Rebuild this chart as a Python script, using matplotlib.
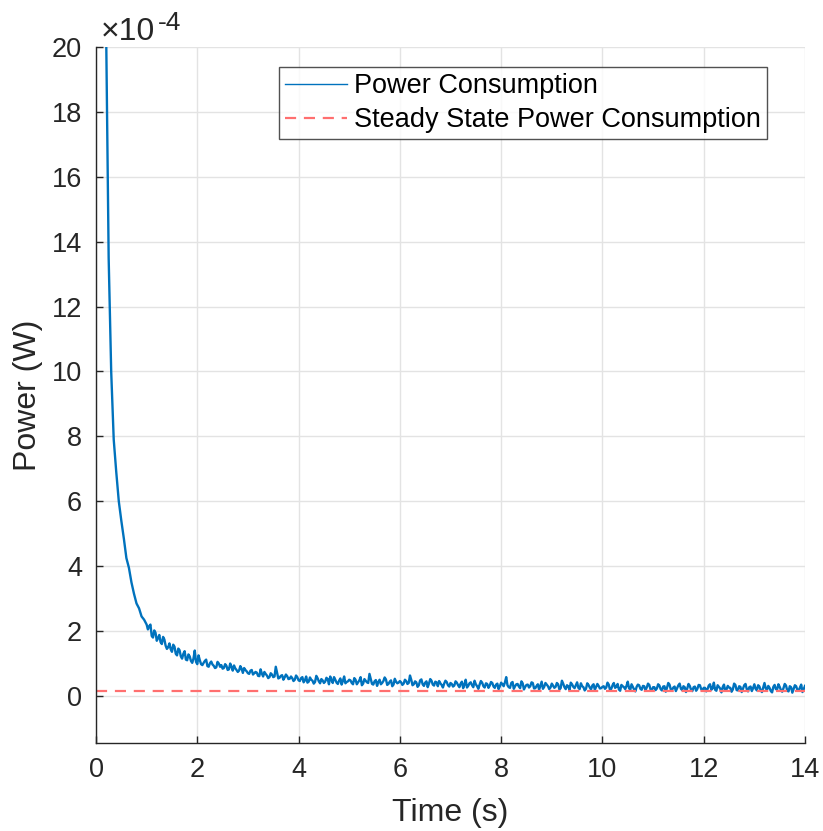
import numpy as np
import matplotlib
matplotlib.use("Agg")
import matplotlib.pyplot as plt

# ---- data (power in units of 1e-4 W) ----
# start of the decay, sampled every 0.05 s from 0.20 s to 1.00 s
early_t0, early_dt = 0.20, 0.05
power_early = [20.5, 13.5, 10.0, 7.9, 6.9, 6.0, 5.4, 4.85, 4.25, 3.95, 3.5,
               3.15, 2.85, 2.7, 2.45, 2.35, 2.2]

# noisy part: samples at 1.05, 1.10, ... 14.00 s
power_1_2 = [2.15, 1.85, 2.02, 1.70, 1.88, 1.60, 1.74, 1.45, 1.62, 1.36,
             1.52, 1.25, 1.41, 1.15, 1.38, 1.10, 1.22, 1.02, 1.40, 0.98]
power_2_3 = [1.10, 0.95, 1.08, 0.92, 1.01, 0.97, 0.86, 1.05, 0.90, 0.84,
             0.98, 0.80, 1.00, 0.78, 0.85, 0.74, 0.92, 0.71, 0.80, 0.70]
power_3_4 = [0.78, 0.66, 0.74, 0.62, 0.82, 0.60, 0.68, 0.55, 0.70, 0.58,
             0.90, 0.54, 0.62, 0.50, 0.66, 0.52, 0.60, 0.46, 0.63, 0.48]
power_4_5 = [0.55, 0.42, 0.60, 0.44, 0.50, 0.38, 0.62, 0.45, 0.52, 0.40,
             0.56, 0.36, 0.49, 0.58, 0.41, 0.47, 0.35, 0.60, 0.43, 0.50]
power_5_6 = [0.40, 0.55, 0.36, 0.48, 0.33, 0.52, 0.42, 0.68, 0.37, 0.45,
             0.31, 0.50, 0.40, 0.57, 0.34, 0.44, 0.30, 0.53, 0.39, 0.46]
power_6_7 = [0.34, 0.50, 0.37, 0.63, 0.33, 0.45, 0.28, 0.48, 0.36, 0.41,
             0.27, 0.52, 0.35, 0.44, 0.30, 0.39, 0.26, 0.47, 0.33, 0.40]
power_7_8 = [0.29, 0.45, 0.33, 0.38, 0.24, 0.50, 0.31, 0.42, 0.27, 0.36,
             0.22, 0.46, 0.30, 0.39, 0.25, 0.43, 0.29, 0.35, 0.21, 0.41]
power_8_9 = [0.30, 0.58, 0.27, 0.40, 0.22, 0.36, 0.29, 0.45, 0.20, 0.34,
             0.26, 0.42, 0.23, 0.31, 0.19, 0.44, 0.28, 0.35, 0.21, 0.38]
power_9_10 = [0.25, 0.40, 0.20, 0.47, 0.27, 0.33, 0.18, 0.36, 0.24, 0.42,
              0.21, 0.30, 0.17, 0.39, 0.26, 0.32, 0.19, 0.37, 0.23, 0.28]
power_10_11 = [0.22, 0.41, 0.18, 0.33, 0.25, 0.37, 0.16, 0.30, 0.21, 0.44,
               0.19, 0.28, 0.14, 0.35, 0.22, 0.31, 0.17, 0.38, 0.20, 0.27]
power_11_12 = [0.18, 0.36, 0.21, 0.29, 0.13, 0.40, 0.20, 0.26, 0.15, 0.33,
               0.22, 0.30, 0.12, 0.37, 0.19, 0.27, 0.16, 0.34, 0.21, 0.25]
power_12_13 = [0.14, 0.32, 0.19, 0.41, 0.16, 0.28, 0.11, 0.35, 0.20, 0.26,
               0.13, 0.38, 0.18, 0.30, 0.12, 0.33, 0.21, 0.27, 0.15, 0.36]
power_13_14 = [0.17, 0.29, 0.12, 0.40, 0.19, 0.25, 0.11, 0.34, 0.20, 0.28,
               0.13, 0.37, 0.16, 0.30, 0.10, 0.33, 0.18, 0.26, 0.12, 0.31]

# in-between samples at 1.025, 1.075, ... 13.975 s
mid_1_2 = [2.05, 2.20, 1.80, 1.95, 1.78, 1.66, 1.82, 1.55, 1.50, 1.44,
           1.58, 1.30, 1.46, 1.22, 1.30, 1.12, 1.28, 1.08, 1.15, 1.05]
mid_2_3 = [1.25, 0.98, 1.02, 1.12, 0.90, 1.06, 0.93, 0.88, 1.00, 0.95,
           0.86, 0.93, 0.82, 0.90, 0.94, 0.80, 0.78, 0.84, 0.86, 0.76]
mid_3_4 = [0.68, 0.80, 0.70, 0.72, 0.61, 0.69, 0.74, 0.63, 0.58, 0.66,
           0.60, 0.72, 0.56, 0.64, 0.57, 0.61, 0.53, 0.55, 0.50, 0.58]
mid_4_5 = [0.46, 0.58, 0.48, 0.41, 0.57, 0.47, 0.43, 0.55, 0.39, 0.48,
           0.44, 0.52, 0.60, 0.40, 0.50, 0.37, 0.54, 0.46, 0.39, 0.45]
mid_5_6 = [0.48, 0.36, 0.50, 0.42, 0.58, 0.38, 0.47, 0.40, 0.52, 0.35,
           0.49, 0.43, 0.36, 0.46, 0.51, 0.37, 0.48, 0.35, 0.44, 0.41]
mid_6_7 = [0.42, 0.38, 0.46, 0.40, 0.50, 0.36, 0.42, 0.33, 0.51, 0.31,
           0.45, 0.38, 0.47, 0.32, 0.42, 0.46, 0.34, 0.38, 0.43, 0.29]
mid_7_8 = [0.37, 0.32, 0.41, 0.27, 0.44, 0.35, 0.26, 0.39, 0.33, 0.47,
           0.30, 0.35, 0.41, 0.26, 0.37, 0.32, 0.40, 0.25, 0.38, 0.30]
mid_8_9 = [0.36, 0.42, 0.33, 0.25, 0.43, 0.30, 0.37, 0.24, 0.39, 0.28,
           0.35, 0.30, 0.40, 0.24, 0.36, 0.31, 0.22, 0.40, 0.30, 0.26]
mid_9_10 = [0.32, 0.28, 0.36, 0.24, 0.38, 0.21, 0.30, 0.41, 0.28, 0.33,
            0.25, 0.39, 0.27, 0.22, 0.34, 0.20, 0.36, 0.28, 0.31, 0.24]
mid_10_11 = [0.30, 0.26, 0.35, 0.22, 0.40, 0.28, 0.20, 0.34, 0.27, 0.31,
             0.24, 0.36, 0.20, 0.28, 0.33, 0.19, 0.30, 0.26, 0.34, 0.17]
mid_11_12 = [0.27, 0.23, 0.32, 0.17, 0.30, 0.25, 0.35, 0.19, 0.29, 0.24,
             0.38, 0.18, 0.27, 0.23, 0.31, 0.15, 0.29, 0.22, 0.33, 0.17]
mid_12_13 = [0.25, 0.21, 0.36, 0.24, 0.19, 0.33, 0.23, 0.27, 0.16, 0.31,
             0.25, 0.20, 0.34, 0.17, 0.28, 0.22, 0.37, 0.14, 0.29, 0.24]
mid_13_14 = [0.22, 0.33, 0.17, 0.26, 0.23, 0.31, 0.15, 0.28, 0.21, 0.36,
             0.18, 0.24, 0.32, 0.14, 0.27, 0.22, 0.30, 0.16, 0.35, 0.21]

steady_state = 0.16   # 1e-4 W

x_ticks = [0, 2, 4, 6, 8, 10, 12, 14]
y_ticks = [0, 2, 4, 6, 8, 10, 12, 14, 16, 18, 20]
x_label = "Time (s)"
y_label = "Power (W)"
legend_labels = ["Power Consumption", "Steady State Power Consumption"]

# ---- assemble series ----
main = np.array(power_1_2 + power_2_3 + power_3_4 + power_4_5 + power_5_6 +
                power_6_7 + power_7_8 + power_8_9 + power_9_10 + power_10_11 +
                power_11_12 + power_12_13 + power_13_14)
mid = np.array(mid_1_2 + mid_2_3 + mid_3_4 + mid_4_5 + mid_5_6 + mid_6_7 +
               mid_7_8 + mid_8_9 + mid_9_10 + mid_10_11 + mid_11_12 +
               mid_12_13 + mid_13_14)
noisy = np.empty(main.size + mid.size)
noisy[0::2] = mid
noisy[1::2] = main
t_early = early_t0 + early_dt * np.arange(len(power_early))
t_noisy = 1.025 + 0.025 * np.arange(noisy.size)
time = np.concatenate([t_early, t_noisy])
power = np.concatenate([np.array(power_early), noisy])

# ---- plot ----
plt.rcParams['font.family'] = ['Liberation Sans', 'DejaVu Sans']
dark = '#262626'

fig = plt.figure(figsize=(8.23, 8.31), dpi=100)
ax = fig.add_axes([96/823, 88/831, 709/823, 696/831])

ax.plot(time, power, color='#0072BD', lw=1.7, label=legend_labels[0])
ax.axhline(steady_state, color='#FF6F6F', lw=1.6, ls=(0, (5, 3.5)),
           label=legend_labels[1])

ax.set_xlim(0, 14)
ax.set_ylim(-1.45, 20)
ax.set_xticks(x_ticks)
ax.set_yticks(y_ticks)
ax.grid(True, color='#E3E3E3', lw=1.0)
ax.set_axisbelow(True)

for s in ['top', 'right']:
    ax.spines[s].set_visible(False)
for s in ['left', 'bottom']:
    ax.spines[s].set_color(dark)
    ax.spines[s].set_linewidth(1.0)

ax.tick_params(direction='in', length=5, width=1, colors=dark,
               labelsize=19.5, pad=10)
ax.set_xlabel(x_label, fontsize=23, color=dark, labelpad=11)
ax.set_ylabel(y_label, fontsize=23, color=dark, labelpad=6)

# exponent label (MATLAB style)
ax.text(0.007, 1.010, '\u00d710', transform=ax.transAxes,
        fontsize=23, color=dark, ha='left', va='baseline')
ax.text(0.087, 1.0245, '-4', transform=ax.transAxes,
        fontsize=19, color=dark, ha='left', va='baseline')

leg = ax.legend(loc='upper right', bbox_to_anchor=(0.946, 0.971),
                borderaxespad=0, fontsize=19.5, frameon=True, fancybox=False,
                handlelength=2.3, handletextpad=0.25, borderpad=0.22,
                labelspacing=0.3)
leg.get_frame().set_edgecolor(dark)
leg.get_frame().set_linewidth(1.0)
leg.get_lines()[0].set_linewidth(1.0)

fig.savefig('out.png', dpi=100)
